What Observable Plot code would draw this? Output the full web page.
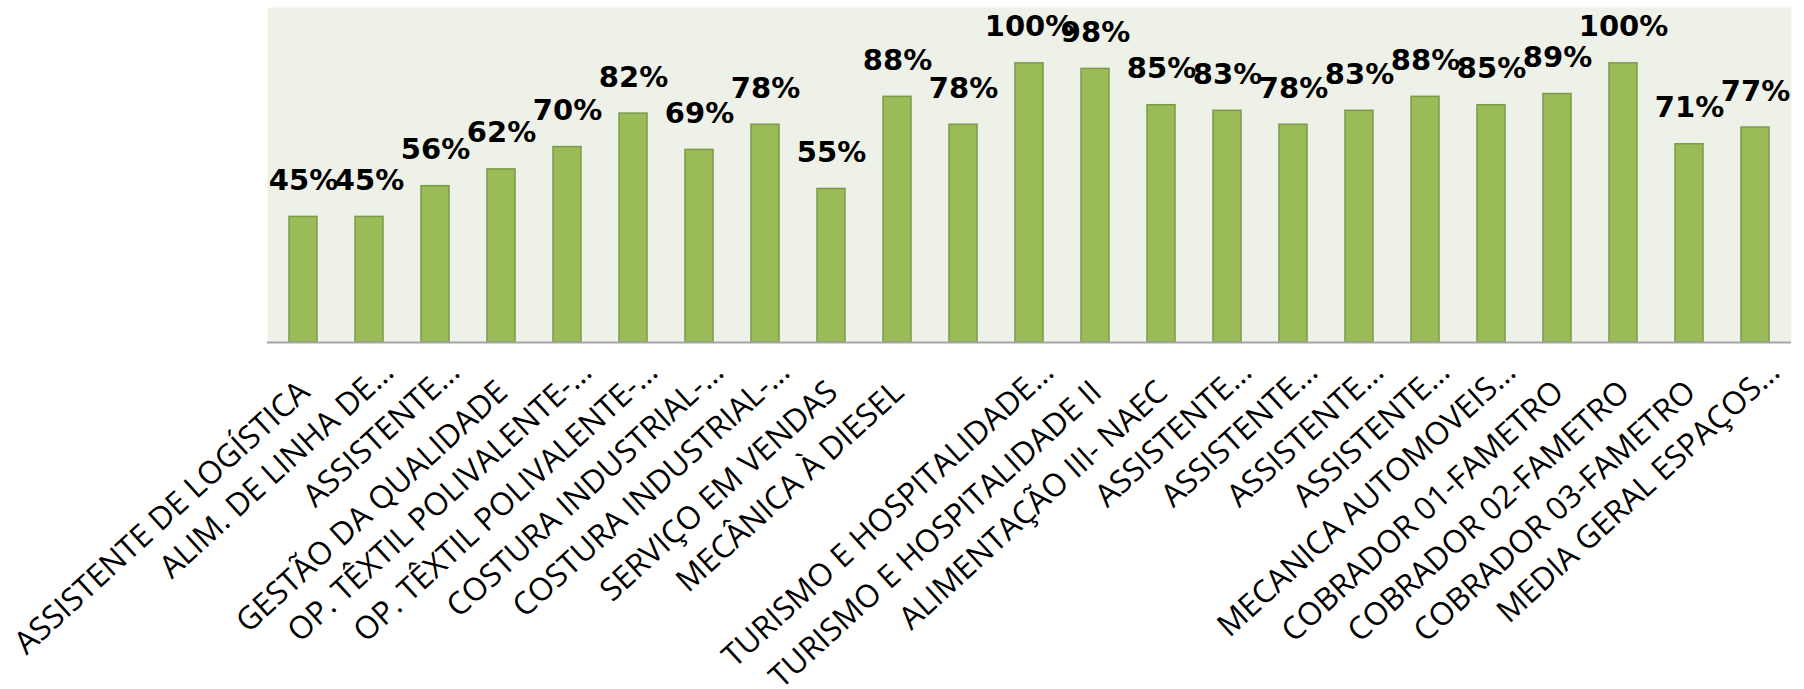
<!DOCTYPE html>
<html>
<head>
<meta charset="utf-8">
<script src="https://cdn.jsdelivr.net/npm/d3@7"></script>
<script src="https://cdn.jsdelivr.net/npm/@observablehq/plot@0.6"></script>
<style>
  html, body { margin: 0; padding: 0; background: #ffffff; }
  #chart { width: 1804px; height: 689px; overflow: hidden; }
</style>
</head>
<body>
<div id="chart"></div>
<script>
// Category labels (as shown, truncated by the original chart)
const categories = [
  "ASSISTENTE DE LOGÍSTICA",
  "ALIM. DE LINHA DE…",
  "ASSISTENTE…",
  "GESTÃO DA QUALIDADE",
  "OP. TÊXTIL POLIVALENTE-…",
  "OP. TÊXTIL POLIVALENTE-…",
  "COSTURA INDUSTRIAL-…",
  "COSTURA INDUSTRIAL-…",
  "SERVIÇO EM VENDAS",
  "MECÂNICA À DIESEL",
  "",
  "TURISMO E HOSPITALIDADE…",
  "TURISMO E HOSPITALIDADE II",
  "ALIMENTAÇÃO III- NAEC",
  "ASSISTENTE…",
  "ASSISTENTE…",
  "ASSISTENTE…",
  "ASSISTENTE…",
  "MECANICA AUTOMOVEIS…",
  "COBRADOR 01-FAMETRO",
  "COBRADOR 02-FAMETRO",
  "COBRADOR 03-FAMETRO",
  "MEDIA GERAL ESPAÇOS…"
];

// Percent values per bar
const values = [0.45, 0.45, 0.56, 0.62, 0.70, 0.82, 0.69, 0.78, 0.55, 0.88, 0.78,
                1.00, 0.98, 0.85, 0.83, 0.78, 0.83, 0.88, 0.85, 0.89, 1.00, 0.71, 0.77];

const data = categories.map((label, i) => ({i, label, value: values[i]}));
const fullLabels = data.filter(d => d.label && !d.label.endsWith("…"));
const cutLabels = data.filter(d => d.label.endsWith("…"));

const tickFont = "'Open Sans', sans-serif";
const valueFont = "'DejaVu Sans', sans-serif";

const chart = Plot.plot({
  width: 1804,
  height: 689,
  marginLeft: 267,
  marginRight: 13,
  marginTop: 7,
  marginBottom: 347,
  style: {background: "#ffffff", fontFamily: tickFont, overflow: "visible"},
  x: {type: "band", domain: d3.range(categories.length), paddingInner: 0.58, paddingOuter: 0.29, axis: null},
  y: {domain: [0, 1.2], axis: null},
  marks: [
    Plot.frame({fill: "#eef1e8", stroke: null}),
    Plot.barY(data, {x: "i", y: "value", fill: "#9bbb59", stroke: "#7b9a48", strokeWidth: 1.5}),
    Plot.ruleY([0], {stroke: "#a5a5a5", strokeWidth: 2}),
    Plot.text(data, {
      x: "i", y: "value",
      text: d => Math.round(d.value * 100) + "%",
      dy: -27, lineAnchor: "bottom",
      fontSize: 29, fontWeight: "bold", fill: "#000000",
      fontFamily: valueFont
    }),
    Plot.text(fullLabels, {
      x: "i", text: "label", frameAnchor: "bottom",
      rotate: -42.5, textAnchor: "end", lineAnchor: "bottom",
      dx: 8, dy: 52, fontSize: 31.5, fill: "#000000", fontFamily: tickFont
    }),
    Plot.text(cutLabels, {
      x: "i", text: "label", frameAnchor: "bottom",
      rotate: -42.5, textAnchor: "end", lineAnchor: "bottom",
      dx: 26, dy: 32, fontSize: 31.5, fill: "#000000", fontFamily: tickFont
    })
  ]
});
document.getElementById("chart").appendChild(chart);
</script>
</body>
</html>
